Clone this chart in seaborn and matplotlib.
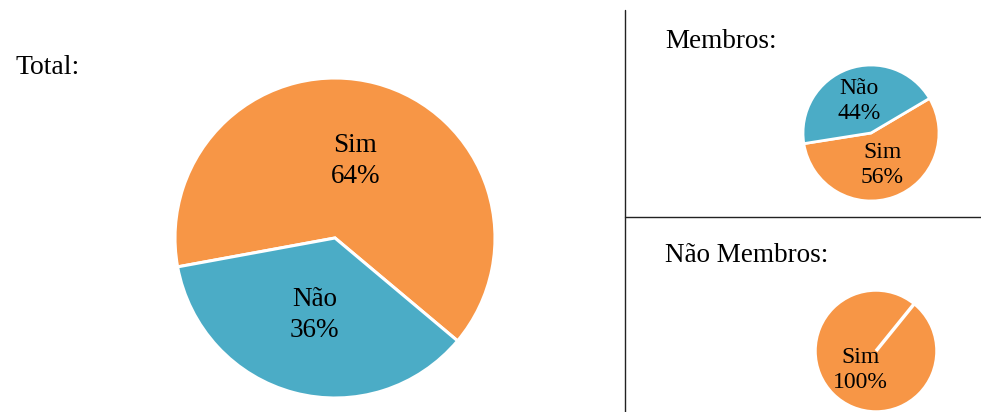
import numpy as np
import seaborn as sns
import matplotlib.pyplot as plt
from matplotlib.lines import Line2D

# Data
respostas = ['Sim', 'Não']
total = [64, 36]
membros = [56, 44]
nao_membros = [100, 0]

sns.set_theme(style='white')
plt.rcParams['font.family'] = ['Liberation Serif', 'DejaVu Serif']
plt.rcParams['text.color'] = 'black'

cores = ['#F79646', '#4BACC6']

W, H = 981, 412
fig = plt.figure(figsize=(W / 100, H / 100), dpi=100)


def pie_axes(cx, cy, r):
    # axes box in pixels -> figure fraction
    return fig.add_axes([(cx - r) / W, (H - cy - r) / H, 2 * r / W, 2 * r / H])


def labels_for(vals):
    return [f'{n}\n{v}%' if v > 0 else '' for n, v in zip(respostas, vals)]


def draw_pie(ax, vals, start, dist, size, lw):
    ax.pie(vals, labels=labels_for(vals), colors=cores, startangle=start,
           labeldistance=dist,
           wedgeprops=dict(edgecolor='white', linewidth=lw),
           textprops=dict(ha='center', va='center', fontsize=size,
                          color='black', linespacing=1.3))
    ax.set_xlim(-1, 1)
    ax.set_ylim(-1, 1)
    ax.set_aspect('equal')
    ax.axis('off')


# Total
ax1 = pie_axes(335, 238, 160)
draw_pie(ax1, total, -40, 0.5, 19.5, 2.2)

# Membros
ax2 = pie_axes(871, 133, 68)
draw_pie(ax2, membros, 189, 0.5, 17, 2)

# Nao membros
ax3 = pie_axes(876, 351, 61)
draw_pie(ax3, nao_membros, 51, 0.4, 17, 2.5)

fig.text(15 / W, 1 - 67 / H, 'Total:', fontsize=20, va='center', ha='left')
fig.text(665 / W, 1 - 42 / H, 'Membros:', fontsize=19.5, va='center', ha='left')
fig.text(665 / W, 1 - 255 / H, 'Não Membros:', fontsize=19.5, va='center', ha='left')

# separator lines
fig.add_artist(Line2D([625 / W, 625 / W], [0, 1 - 10 / H], color='#222222', lw=1,
                      transform=fig.transFigure))
fig.add_artist(Line2D([625 / W, 1], [1 - 217 / H, 1 - 217 / H], color='#222222', lw=1,
                      transform=fig.transFigure))

fig.savefig('out.png', dpi=100)
